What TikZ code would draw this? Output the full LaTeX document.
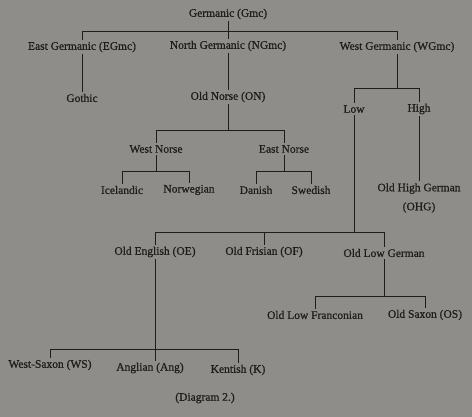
\documentclass[tikz,border=0pt]{standalone}
\usepackage{fontspec}
\setmainfont{Liberation Serif}
\newfontfamily\printfont[FakeBold=0.7]{Liberation Serif}
\definecolor{paper}{HTML}{8F8D89}
\definecolor{ink}{HTML}{1E1D1C}
\tikzset{lang/.style={inner sep=2pt, text=ink, font=\printfont\fontsize{11.5}{13}\selectfont},
  branch/.style={draw=ink, line width=.9pt}}
\begin{document}
\begin{tikzpicture}[x=1pt,y=-1pt]
\fill[paper] (0,0) rectangle (472,417);
\useasboundingbox (0,0) rectangle (472,417);
% Germanic and its three branches
\node[lang] (gmc) at (228,14) {Germanic (Gmc)};
\node[lang] (egmc) at (82,47) {East Germanic (EGmc)};
\node[lang] (ngmc) at (228,46) {North Germanic (NGmc)};
\node[lang] (wgmc) at (397,47) {West Germanic (WGmc)};
\coordinate (gmc-bar) at (0,31);
\draw[branch] (gmc.south) -- (gmc.south |- ngmc.north);
\draw[branch] (egmc.north) -- (egmc.north |- gmc-bar) -| (wgmc.north);
% East and North
\node[lang] (gothic) at (82,98) {Gothic};
\node[lang] (on) at (228,97) {Old Norse (ON)};
\draw[branch] (egmc.south) -- (gothic.north);
\draw[branch] (ngmc.south) -- (on.north);
% Old Norse down to the modern tongues
\node[lang] (wn) at (156,149) {West Norse};
\node[lang] (en) at (284,149) {East Norse};
\coordinate (on-bar) at (0,130);
\draw[branch] (on.south) -- (on.south |- on-bar);
\draw[branch] (wn.north) -- (wn.north |- on-bar) -| (en.north);
\node[lang] (icel) at (122,190) {Icelandic};
\node[lang] (norw) at (189,190) {Norwegian};
\node[lang] (dan) at (256,190) {Danish};
\node[lang] (swed) at (311,190) {Swedish};
\coordinate (wn-bar) at (0,171);
\draw[branch] (wn.south) -- (wn.south |- wn-bar);
\draw[branch] (icel.north) -- (icel.north |- wn-bar) -| (norw.north);
\draw[branch] (en.south) -- (en.south |- wn-bar);
\draw[branch] (dan.north) -- (dan.north |- wn-bar) -| (swed.north);
% West Germanic: Low and High
\node[lang] (low) at (354,109) {Low};
\node[lang] (high) at (419,109) {High};
\coordinate (wgmc-bar) at (0,88);
\draw[branch] (wgmc.south) -- (wgmc.south |- wgmc-bar);
\draw[branch] (low.north) -- (low.north |- wgmc-bar) -| (high.north);
\node[lang, align=center] (ohg) at (419,198) {Old High German\\[6pt](OHG)};
\draw[branch] (high.south) -- (ohg.north);
% Low German group
\node[lang] (oe) at (155,252) {Old English (OE)};
\node[lang] (of) at (264,252) {Old Frisian (OF)};
\node[lang] (olg) at (384,253) {Old Low German};
\coordinate (low-bar) at (0,232);
\draw[branch] (low.south) -- (low.south |- low-bar);
\draw[branch] (oe.north) -- (oe.north |- low-bar) -| (olg.north);
\draw[branch] (of.north) -- (of.north |- low-bar);
% Old Low German split
\node[lang] (olf) at (315,315) {Old Low Franconian};
\node[lang] (os) at (425,315) {Old Saxon (OS)};
\coordinate (olg-bar) at (0,296);
\draw[branch] (olg.south) -- (olg.south |- olg-bar);
\draw[branch] (olf.north) -- (olf.north |- olg-bar) -| (os.north);
% Old English dialects
\node[lang] (ws) at (50,365) {West-Saxon (WS)};
\node[lang] (ang) at (150,368) {Anglian (Ang)};
\node[lang] (kent) at (238,370) {Kentish (K)};
\coordinate (oe-bar) at (0,349);
\draw[branch] (oe.south) -- (oe.south |- ang.north);
\draw[branch] (ws.north) -- (ws.north |- oe-bar) -| (kent.north);
\node[lang] (caption) at (205,398) {(Diagram 2.)};
\end{tikzpicture}
\end{document}
